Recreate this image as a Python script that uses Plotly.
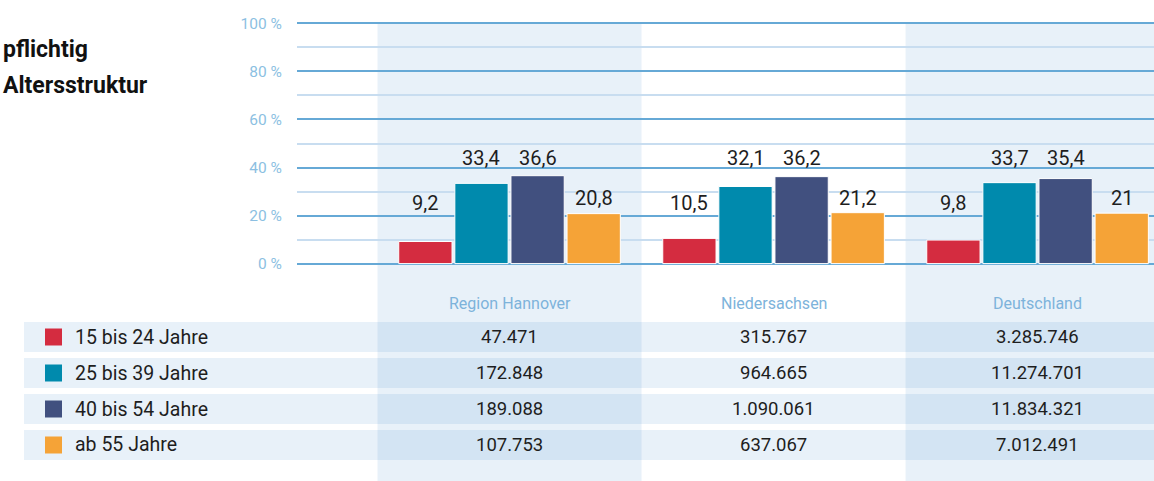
import plotly.graph_objects as go

# ---------------- data ----------------
categories = ["Region Hannover", "Niedersachsen", "Deutschland"]
age_groups = ["15 bis 24 Jahre", "25 bis 39 Jahre", "40 bis 54 Jahre", "ab 55 Jahre"]

share_15_24 = [9.2, 10.5, 9.8]
share_25_39 = [33.4, 32.1, 33.7]
share_40_54 = [36.6, 36.2, 35.4]
share_55 = [20.8, 21.2, 21.0]

count_15_24 = ["47.471", "315.767", "3.285.746"]
count_25_39 = ["172.848", "964.665", "11.274.701"]
count_40_54 = ["189.088", "1.090.061", "11.834.321"]
count_55 = ["107.753", "637.067", "7.012.491"]

y_ticks = [0, 20, 40, 60, 80, 100]
y_minor = [10, 30, 50, 70, 90]
title_lines = ["pflichtig", "Altersstruktur"]

# ---------------- style ----------------
shares = [share_15_24, share_25_39, share_40_54, share_55]
counts = [count_15_24, count_25_39, count_40_54, count_55]
colors = ["#d42c40", "#008aad", "#41507f", "#f5a337"]
label_y = [25.1, 44.1, 44.1, 27.4]          # label heights (axis units) per series

FONT = "Roboto, 'Open Sans', sans-serif"
TXT = "#1e1e1e"
AXIS_BLUE = "#8cbfe2"
SHADE = "rgba(0,99,188,0.09)"

W, H = 1154, 481
PLOT_L, PLOT_T, PLOT_B = 297, 21, 266        # plot area in screen pixels
L, T, B, R = PLOT_L, PLOT_T, H - PLOT_B, 0
XMIN, XMAX = -0.805, 2.441
YMIN, YMAX = -1, 101
PW, PH = W - L - R, H - T - B

def px_x(px):
    return (px - PLOT_L) / PW

def px_y(py):
    return (PLOT_B - py) / PH

def dx(v):
    return (v - XMIN) / (XMAX - XMIN)

def dy(v):
    return (v - YMIN) / (YMAX - YMIN)

BARGAP, GROUPGAP = 0.15, 0.05
n = len(age_groups)
slot = (1 - BARGAP) / n

fig = go.Figure()
xs = list(range(len(categories)))
for k, name in enumerate(age_groups):
    fig.add_trace(go.Bar(
        x=xs, y=shares[k], name=name,
        marker=dict(color=colors[k], line=dict(color="white", width=1)),
        showlegend=False, hoverinfo="skip",
    ))

annotations = []
shapes = []

# value labels above bars
for k in range(n):
    off = -(1 - BARGAP) / 2 + slot * (k + 0.5)
    for i in xs:
        v = shares[k][i]
        annotations.append(dict(
            x=i + off, y=label_y[k], xref="x", yref="y",
            text=f"{v:g}".replace(".", ","), showarrow=False,
            font=dict(family=FONT, size=20, color=TXT),
            xanchor="center", yanchor="middle",
        ))

# column shading (categories 0 and 2)
for i in xs:
    if i % 2 == 0:
        shapes.append(dict(
            type="rect", xref="paper", yref="paper",
            x0=dx(i - 0.5), x1=dx(i + 0.5), y0=px_y(H + 4), y1=dy(100),
            fillcolor=SHADE, line=dict(width=0), layer="below",
        ))

# category labels
for i, c in enumerate(categories):
    annotations.append(dict(
        x=i, y=px_y(303), xref="x", yref="paper", text=c, showarrow=False,
        font=dict(family=FONT, size=16, color="#7db3db"),
        xanchor="center", yanchor="middle",
    ))

# table rows
row_centers = [337, 373, 409, 445]
for r, name in enumerate(age_groups):
    cy = row_centers[r]
    shapes.append(dict(
        type="rect", xref="paper", yref="paper",
        x0=px_x(24), x1=px_x(W + 6), y0=px_y(cy + 15), y1=px_y(cy - 15),
        fillcolor=SHADE, line=dict(width=0), layer="below",
    ))
    shapes.append(dict(
        type="rect", xref="paper", yref="paper",
        x0=px_x(45), x1=px_x(62), y0=px_y(cy + 8.5), y1=px_y(cy - 8.5),
        fillcolor=colors[r], line=dict(width=0), layer="above",
    ))
    annotations.append(dict(
        x=px_x(73), y=px_y(cy), xref="paper", yref="paper", text=name,
        showarrow=False, font=dict(family=FONT, size=19.5, color=TXT),
        xanchor="left", yanchor="middle",
    ))
    for i in xs:
        annotations.append(dict(
            x=i, y=px_y(cy), xref="x", yref="paper", text=counts[r][i],
            showarrow=False, font=dict(family=FONT, size=18.5, color=TXT),
            xanchor="center", yanchor="middle",
        ))

# title fragments visible at the left edge
for line, cy in zip(title_lines, [49, 85]):
    annotations.append(dict(
        x=px_x(1), y=px_y(cy), xref="paper", yref="paper",
        text="<b>" + line + "</b>", showarrow=False,
        font=dict(family=FONT, size=23, color="#111111"),
        xanchor="left", yanchor="middle",
    ))

fig.update_layout(
    width=W, height=H,
    margin=dict(l=L, r=R, t=T, b=B, pad=0),
    paper_bgcolor="white", plot_bgcolor="rgba(0,0,0,0)",
    barmode="group", bargap=BARGAP, bargroupgap=GROUPGAP,
    showlegend=False,
    shapes=shapes, annotations=annotations,
    xaxis=dict(range=[XMIN, XMAX], showgrid=False, zeroline=False,
               showticklabels=False, showline=False, ticks="", fixedrange=True),
    yaxis=dict(range=[YMIN, YMAX], tickmode="array", tickvals=y_ticks,
               ticktext=[f"{v} %" for v in y_ticks],
               showgrid=True, gridcolor="#66a9d6", gridwidth=2,
               zeroline=False, showline=False,
               ticks="outside", ticklen=11, tickcolor="rgba(0,0,0,0)",
               tickfont=dict(family=FONT, size=15.5, color=AXIS_BLUE),
               minor=dict(tickmode="array", tickvals=y_minor, showgrid=True,
                          gridcolor="#c8ddf0", gridwidth=2, ticks=""),
               fixedrange=True),
)

fig.write_html(
    "out.html",
    config={"displayModeBar": False},
    post_script="document.body.style.margin='0';document.body.style.overflow='hidden';",
)
